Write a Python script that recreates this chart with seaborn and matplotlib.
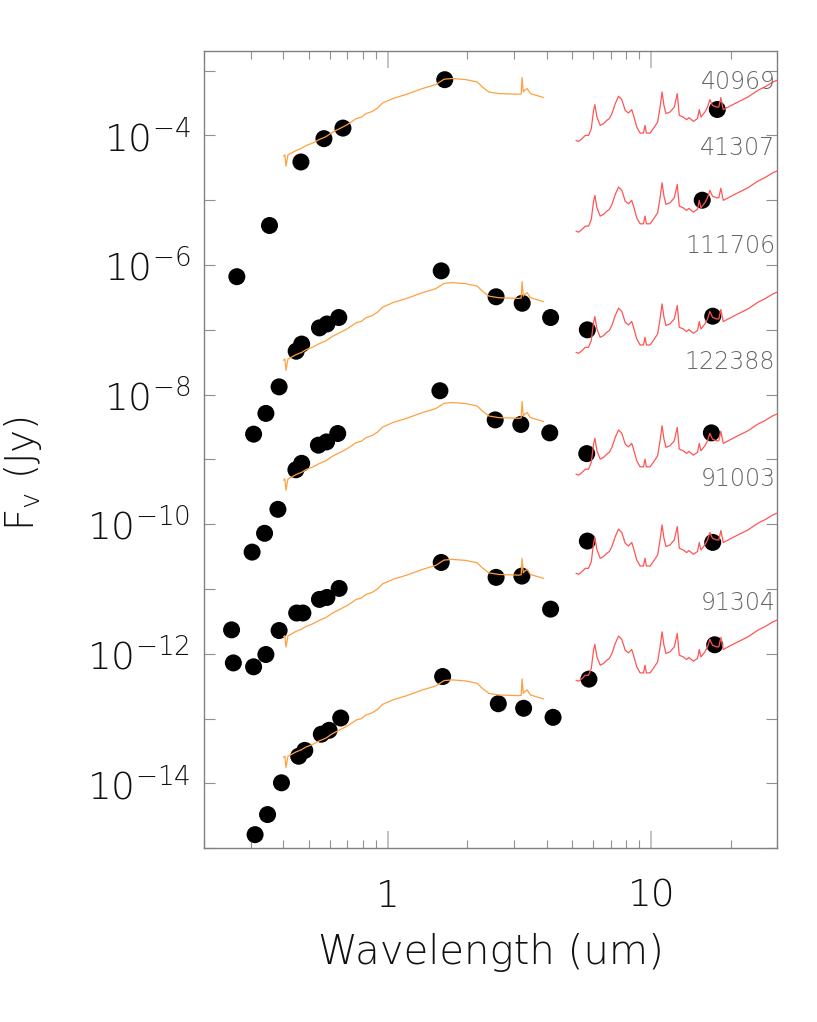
import numpy as np
import pandas as pd
import matplotlib
matplotlib.use("Agg")
import matplotlib.pyplot as plt
import matplotlib.ticker as mticker
import seaborn as sns

# object names, top to bottom
objects = ["40969", "41307", "111706", "122388", "91003", "91304"]
label_logf = [-3.18, -4.19, -5.71, -7.50, -9.30, -11.21]

# photometry (wavelength um, log10 flux Jy)
phot_40969_wl = [0.466, 0.57, 0.673, 1.64, 17.8]
phot_40969_lf = [-4.41, -4.05, -3.887, -3.14, -3.60]
phot_41307_wl = [0.266, 0.354, 15.6]
phot_41307_lf = [-6.18, -5.39, -5.00]
phot_111706_wl = [0.308, 0.343, 0.385, 0.447, 0.469, 0.548, 0.585, 0.649, 1.59, 2.57, 3.23, 4.14, 5.71, 17.1]
phot_111706_lf = [-8.61, -8.29, -7.88, -7.33, -7.22, -6.97, -6.91, -6.81, -6.09, -6.49, -6.59, -6.81, -7.00, -6.79]
phot_122388_wl = [0.304, 0.339, 0.381, 0.446, 0.469, 0.543, 0.583, 0.643, 1.572, 2.55, 3.19, 4.11, 5.68, 16.9]
phot_122388_lf = [-10.43, -10.14, -9.77, -9.16, -9.06, -8.78, -8.73, -8.60, -7.94, -8.39, -8.46, -8.59, -8.91, -8.59]
phot_91003_wl = [0.254, 0.258, 0.308, 0.343, 0.385, 0.449, 0.474, 0.548, 0.585, 0.651, 1.59, 2.57, 3.22, 4.14, 5.71, 17.1]
phot_91003_lf = [-11.63, -12.14, -12.20, -12.01, -11.64, -11.37, -11.37, -11.16, -11.13, -10.99, -10.59, -10.82, -10.80, -11.31, -10.26, -10.28]
phot_91304_wl = [0.312, 0.348, 0.393, 0.457, 0.482, 0.557, 0.596, 0.66, 1.61, 2.62, 3.27, 4.23, 5.79, 17.4]
phot_91304_lf = [-14.79, -14.48, -13.99, -13.58, -13.49, -13.24, -13.18, -12.99, -12.35, -12.77, -12.84, -12.98, -12.39, -11.86]

# stellar model (orange), shape read from the top object
star_wl = [0.400, 0.405, 0.409, 0.416, 0.430, 0.447, 0.468, 0.488, 0.515, 0.548, 0.580, 0.615,
           0.650, 0.691, 0.720, 0.755, 0.790, 0.823, 0.870, 0.911, 0.952, 1.054, 1.167,
           1.349, 1.516, 1.630, 1.753, 1.968, 2.179, 2.276, 2.414, 2.633, 3.134, 3.20,
           3.226, 3.26, 3.296, 3.372, 3.470, 3.899]
star_lf = [-4.32, -4.30, -4.475, -4.30, -4.27, -4.232, -4.20, -4.155, -4.12, -4.062, -4.02, -3.949,
           -3.90, -3.845, -3.80, -3.741, -3.72, -3.664, -3.63, -3.577, -3.50, -3.423, -3.370,
           -3.277, -3.215, -3.133, -3.122, -3.138, -3.175, -3.252, -3.330, -3.355, -3.365, -3.36,
           -3.107, -3.33, -3.303, -3.277, -3.355, -3.416]
star_shift = {"40969": 0.0, "111706": 3.15, "122388": 5.00, "91003": 7.42, "91304": 9.28}

# dust / PAH model (red), shape read from the top object
dust_wl = [5.17, 5.29, 5.45, 5.61, 5.77, 5.91, 6.03, 6.10, 6.21, 6.39, 6.58, 6.77, 6.92, 7.08,
           7.29, 7.50, 7.72, 7.95, 8.18, 8.42, 8.55, 8.80, 9.06, 9.33, 9.46, 9.57, 9.89,
           10.26, 10.56, 10.79, 10.98, 11.16, 11.36, 11.77, 12.22, 12.54, 12.76, 13.21,
           13.61, 13.89, 14.43, 14.97, 15.20, 15.42, 15.97, 16.34, 16.68, 17.06, 17.67,
           18.04, 18.36, 18.75, 20.75, 23.29, 25.43, 26.96, 28.98, 30.0]
dust_lf = [-4.077, -4.093, -4.051, -4.0, -4.0, -3.896, -3.613, -3.525, -3.717, -3.845, -3.819,
           -3.768, -3.741, -3.664, -3.509, -3.396, -3.447, -3.613, -3.655, -3.602, -3.690,
           -3.872, -3.964, -3.964, -3.845, -3.964, -3.964, -3.872, -3.794, -3.562, -3.330,
           -3.536, -3.664, -3.639, -3.562, -3.355, -3.690, -3.717, -3.757, -3.726, -3.783,
           -3.741, -3.602, -3.717, -3.639, -3.562, -3.447, -3.536, -3.562, -3.562, -3.416,
           -3.602, -3.509, -3.407, -3.303, -3.252, -3.175, -3.15]
dust_shift = {"40969": 0.0, "41307": 1.40, "111706": 3.27, "122388": 5.15, "91003": 6.68, "91304": 8.33}

phot = {
    "40969": (phot_40969_wl, phot_40969_lf),
    "41307": (phot_41307_wl, phot_41307_lf),
    "111706": (phot_111706_wl, phot_111706_lf),
    "122388": (phot_122388_wl, phot_122388_lf),
    "91003": (phot_91003_wl, phot_91003_lf),
    "91304": (phot_91304_wl, phot_91304_lf),
}

rows = []
for name, (wl, lf) in phot.items():
    for w, f in zip(wl, lf):
        rows.append({"object": name, "wavelength": w, "flux": 10.0 ** f})
df_phot = pd.DataFrame(rows)

star_rows = []
for name, shift in star_shift.items():
    for w, f in zip(star_wl, star_lf):
        star_rows.append({"object": name, "wavelength": w, "flux": 10.0 ** (f - shift)})
df_star = pd.DataFrame(star_rows)

dust_rows = []
for name, shift in dust_shift.items():
    for w, f in zip(dust_wl, dust_lf):
        dust_rows.append({"object": name, "wavelength": w, "flux": 10.0 ** (f - shift)})
df_dust = pd.DataFrame(dust_rows)

sns.set_style("ticks")
plt.rcParams["font.family"] = ["DejaVu Sans"]
plt.rcParams["font.weight"] = "light"
plt.rcParams["axes.labelweight"] = "light"

fig = plt.figure(figsize=(8.17, 10.22), dpi=100)
ax = fig.add_axes([0.25, 0.170, 0.701, 0.780])

sns.scatterplot(data=df_phot, x="wavelength", y="flux", color="black", s=150,
                edgecolor="none", ax=ax, zorder=2, legend=False)
sns.lineplot(data=df_star, x="wavelength", y="flux", units="object", estimator=None,
             sort=False, color="#FFA040", lw=0.9, ax=ax, zorder=3)
sns.lineplot(data=df_dust, x="wavelength", y="flux", units="object", estimator=None,
             sort=False, color="#FF5555", lw=0.9, ax=ax, zorder=3)

ax.set_xscale("log")
ax.set_yscale("log")
ax.set_xlim(0.2, 30)
ax.set_ylim(1e-15, 2e-3)

for name, lf in zip(objects, label_logf):
    ax.text(29.6, 10.0 ** lf, name, ha="right", va="center", fontsize=17,
            color="#666666", fontweight="light")

# ticks
ax.xaxis.set_major_locator(mticker.FixedLocator([1, 10]))
ax.xaxis.set_major_formatter(mticker.FixedFormatter(["1", "10"]))
ax.xaxis.set_minor_locator(mticker.LogLocator(base=10, subs=np.arange(2, 10), numticks=20))
ax.xaxis.set_minor_formatter(mticker.NullFormatter())
ydec = list(range(-15, -2))
ax.yaxis.set_major_locator(mticker.FixedLocator([10.0 ** d for d in ydec]))
ax.yaxis.set_major_formatter(mticker.FixedFormatter(
    [r"$10^{%d}$" % d if d % 2 == 0 else "" for d in ydec]))
ax.yaxis.set_minor_locator(mticker.NullLocator())

ax.tick_params(axis="x", which="major", direction="in", length=12, width=1.2,
               color="#B8B8B8", top=True, labelsize=27, pad=22, labelcolor="#111111")
ax.tick_params(axis="x", which="minor", direction="in", length=6, width=0.8,
               color="#909090", top=True)
ax.tick_params(axis="y", which="major", direction="in", length=8, width=0.8,
               color="#909090", right=True, labelsize=27, pad=10, labelcolor="#111111")

for sp in ax.spines.values():
    sp.set_color("#808080")
    sp.set_linewidth(1.0)

ax.set_xlabel("Wavelength (um)", fontsize=29, color="#111111", labelpad=14,
              fontweight="light")
ax.set_ylabel(r"F$_{\mathregular{v}}$ (Jy)", fontsize=28, color="#111111",
              fontweight="light")
ax.yaxis.set_label_coords(-0.28, 0.47)

fig.savefig("out.png", dpi=100)
